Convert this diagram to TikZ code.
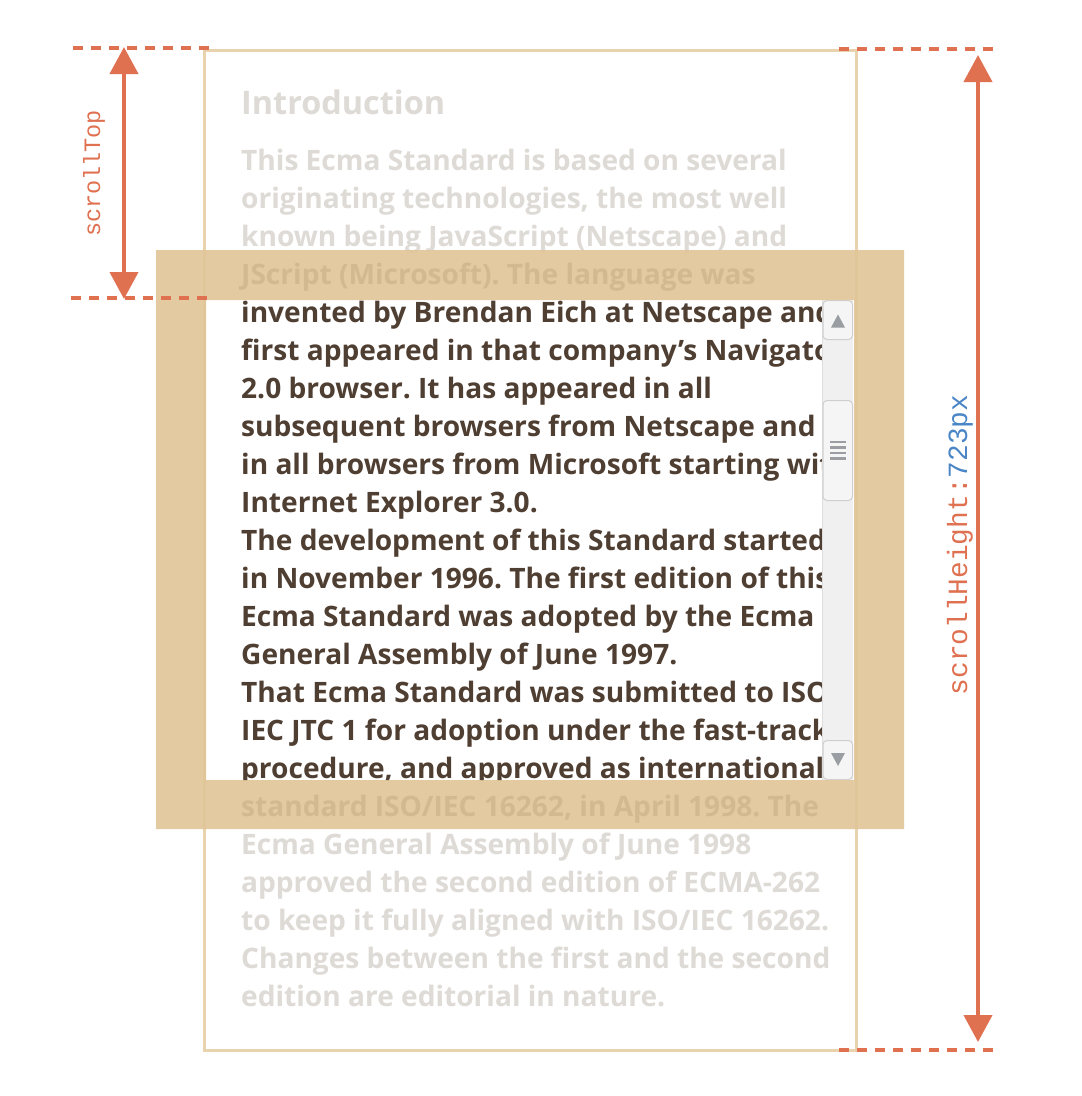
\documentclass[tikz,border=0pt]{standalone}
\usepackage{fontspec}
\newfontfamily\txtfont{Open Sans}
\newfontfamily\monofont{Liberation Mono}
\usetikzlibrary{arrows.meta}
\frenchspacing
\definecolor{fadedc}{HTML}{DEDAD6}
\definecolor{darkc}{HTML}{4F3E32}
\definecolor{bandtxt}{HTML}{D3B98F}
\definecolor{bandc}{HTML}{E1C597}
\definecolor{borderc}{HTML}{E8D3AE}
\definecolor{orangec}{HTML}{DF7050}
\definecolor{bluec}{HTML}{4A85C6}
\definecolor{trackc}{HTML}{F0F0F0}
\definecolor{btnborder}{HTML}{CFCFCF}
\definecolor{gripc}{HTML}{9A9EA3}
\tikzset{
  x=1pt, y=-1pt,
  line/.style={anchor=base west, inner sep=0pt, font=\txtfont\bfseries\fontsize{28.1}{38}\selectfont},
  fadedline/.style={line, text=fadedc},
  darkline/.style={line, text=darkc},
  bandline/.style={line, text=bandtxt},
  headline/.style={anchor=base west, inner sep=0pt, text=fadedc, font=\txtfont\bfseries\fontsize{32.4}{40}\selectfont},
  dashline/.style={draw=orangec, line width=3.5pt, dash pattern=on 10pt off 8pt},
  measure/.style={draw=orangec, line width=4pt, {Triangle[length=27pt 0 0,width=28pt 0 0]}-{Triangle[length=27pt 0 0,width=28pt 0 0]}},
  btn/.style={draw=btnborder, fill=white!96!black, line width=1pt, rounded corners=4pt},
  lbl/.style={inner sep=0pt, rotate=90, anchor=base}
}
\begin{document}
\begin{tikzpicture}
\useasboundingbox (0,0) rectangle (1082,1096);
\fill[white] (0,0) rectangle (1082,1096);
% faded text above and below
\node[headline] (h0) at (241,114) {Introduction};
\node[fadedline] (l1) at (241,170) {This Ecma Standard is based on several};
\node[fadedline] (l2) at (241,208) {originating technologies, the most well};
\node[fadedline] (l3) at (241,246) {known being JavaScript (Netscape) and};
\node[fadedline] (l19) at (241,854) {Ecma General Assembly of June 1998};
\node[fadedline] (l20) at (241,892) {approved the second edition of ECMA-262};
\node[fadedline] (l21) at (241,930) {to keep it fully aligned with ISO/IEC 16262.};
\node[fadedline] (l22) at (241,968) {Changes between the first and the second};
\node[fadedline] (l23) at (241,1006) {edition are editorial in nature.};
% document border
\draw[borderc, line width=3pt] (204,50) rectangle (856,1050);
% visible window text
\begin{scope}
\clip (206,300) rectangle (822,780);
\node[darkline] (l5) at (241,322) {invented by Brendan Eich at Netscape and};
\node[darkline] (l6) at (241,360) {first appeared in that company’s Navigator};
\node[darkline] (l7) at (241,398) {2.0 browser. It has appeared in all};
\node[darkline] (l8) at (241,436) {subsequent browsers from Netscape and};
\node[darkline] (l9) at (241,474) {in all browsers from Microsoft starting with};
\node[darkline] (l10) at (241,512) {Internet Explorer 3.0.};
\node[darkline] (l11) at (241,550) {The development of this Standard started};
\node[darkline] (l12) at (241,588) {in November 1996. The first edition of this};
\node[darkline] (l13) at (241,626) {Ecma Standard was adopted by the Ecma};
\node[darkline] (l14) at (241,664) {General Assembly of June 1997.};
\node[darkline] (l15) at (241,702) {That Ecma Standard was submitted to ISO/};
\node[darkline] (l16) at (241,740) {IEC JTC 1 for adoption under the fast-track};
\node[darkline] (l17) at (241,778) {procedure, and approved as international};
\end{scope}
% scrollbar
\fill[trackc] (822,300) rectangle (853,780);
\draw[btnborder!70, line width=0.8pt] (822.4,300) -- (822.4,780);
\draw[btn] (823,300.5) rectangle (852.5,339.5);
\fill[gripc] (838,314.5) -- (845,327.5) -- (831,327.5) -- cycle;
\draw[btn] (823,400.5) rectangle (852.5,500.5);
\foreach \yy in {442,447.5,453,458.5}
  \fill[gripc] (830,\yy-1.4) rectangle (846,\yy+1.4);
\draw[btn] (823,740.5) rectangle (852.5,779.5);
\fill[gripc] (838,766) -- (845,753) -- (831,753) -- cycle;
% frame band
\fill[bandc, opacity=0.9, even odd rule] (156,250) rectangle (904,829) (206,300) rectangle (854,780);
\node[bandline] (l4) at (241,284) {JScript (Microsoft). The language was};
\node[bandline] (l18) at (241,816) {standard ISO/IEC 16262, in April 1998. The};
% scrollTop measure
\coordinate (stA) at (73,48);
\coordinate (stB) at (209,48);
\coordinate (stC) at (71,298);
\coordinate (stD) at (207,298);
\draw[dashline] (stA) -- (stB);
\draw[dashline] (stC) -- (stD);
\coordinate (stTop) at (124,47);
\coordinate (stBot) at (124,299);
\draw[measure] (stTop) -- (stBot);
\node[lbl, text=orangec, font=\monofont\fontsize{23.5}{28}\selectfont] (stLabel) at (100,173.5) {scrollTop};
% scrollHeight measure
\coordinate (shA) at (839,49);
\coordinate (shB) at (995,49);
\coordinate (shC) at (839,1050);
\coordinate (shD) at (995,1050);
\draw[dashline] (shA) -- (shB);
\draw[dashline] (shC) -- (shD);
\coordinate (shTop) at (978,55);
\coordinate (shBot) at (978,1042);
\draw[measure] (shTop) -- (shBot);
\node[lbl, font=\monofont\fontsize{27.8}{32}\selectfont] (shLabel) at (967,545) {\textcolor{orangec}{scrollHeight:}\textcolor{bluec}{723px}};
\end{tikzpicture}
\end{document}
